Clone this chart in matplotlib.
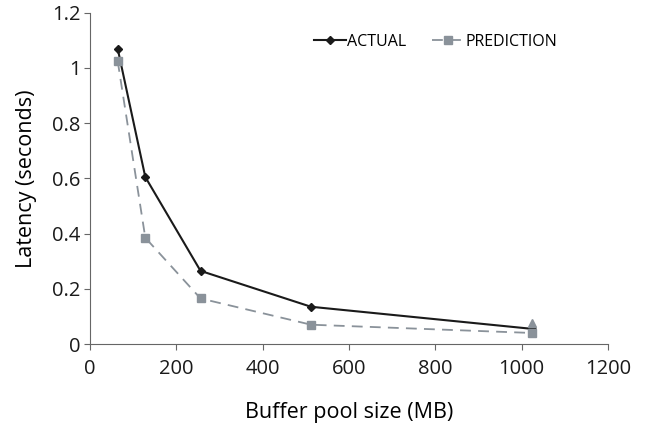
import matplotlib
matplotlib.use("Agg")
import matplotlib.pyplot as plt

plt.rcParams['font.family'] = ['Open Sans', 'DejaVu Sans']

# buffer pool sizes in MB
buffer_mb = [64, 128, 256, 512, 1024]
actual = [1.07, 0.605, 0.265, 0.135, 0.055]
prediction = [1.025, 0.385, 0.165, 0.07, 0.04]
extra_x = [1024]
extra_y = [0.075]

xticks = [0, 200, 400, 600, 800, 1000, 1200]
yticks = [0, 0.2, 0.4, 0.6, 0.8, 1.0, 1.2]
ytick_labels = ['0', '0.2', '0.4', '0.6', '0.8', '1', '1.2']

fig = plt.figure(figsize=(6.48, 4.33), dpi=100)
ax = fig.add_axes([0.139, 0.2055, 0.799, 0.765])

ax.plot(buffer_mb, actual, color='#1a1a1a', lw=1.5, marker='D', ms=4, label='ACTUAL')
ax.plot(buffer_mb, prediction, color='#8a929a', lw=1.3, ls=(0, (6, 4)),
        marker='s', ms=5.5, label='PREDICTION')
ax.plot(extra_x, extra_y, color='#8a929a', marker='^', ms=6, ls='none')

ax.set_xlim(0, 1200)
ax.set_ylim(0, 1.2)
ax.set_xticks(xticks)
ax.set_yticks(yticks)
ax.set_yticklabels(ytick_labels)
ax.tick_params(labelsize=14.5, labelcolor='#1a1a1a', color='#666666',
               direction='out', length=4)
ax.tick_params(axis='y', pad=3)
ax.tick_params(axis='x', pad=7)
for side in ['top', 'right']:
    ax.spines[side].set_visible(False)
for side in ['left', 'bottom']:
    ax.spines[side].set_color('#666666')

ax.set_xlabel('Buffer pool size (MB)', fontsize=15.5, labelpad=16)
ax.set_ylabel('Latency (seconds)', fontsize=15.5, labelpad=11)

ax.legend(loc='upper right', bbox_to_anchor=(0.93, 0.98), ncol=2, frameon=False,
          fontsize=11.5, handlelength=2.0, handletextpad=0.1, columnspacing=1.6)

plt.savefig('out.png', dpi=100)
